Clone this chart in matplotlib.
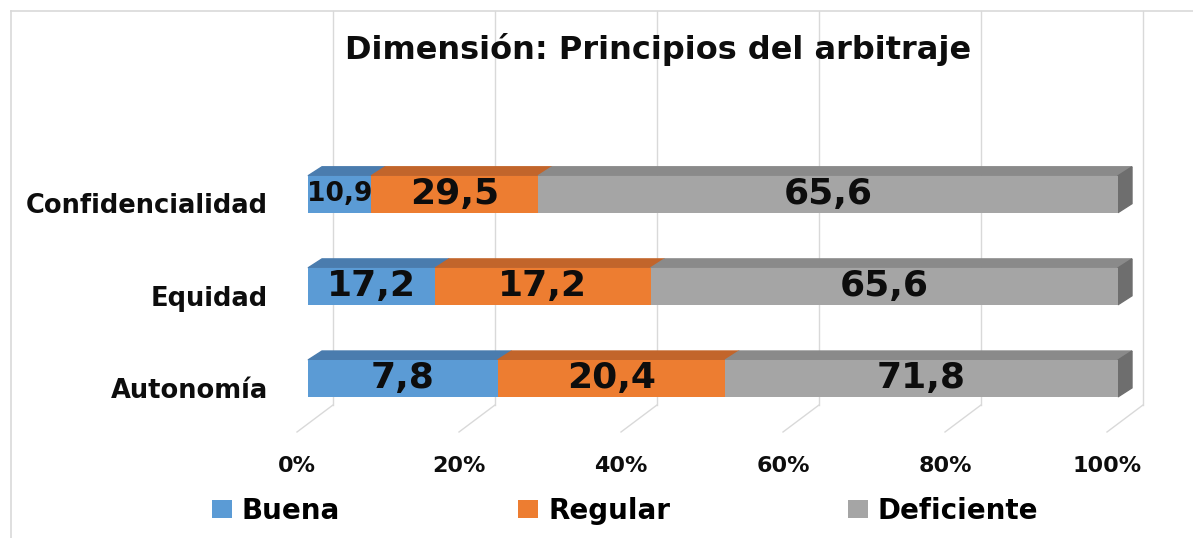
import matplotlib.pyplot as plt
from matplotlib.patches import Polygon
from matplotlib.lines import Line2D
import numpy as np

categories = ['Autonomía', 'Equidad', 'Confidencialidad']
series = ['Buena', 'Regular', 'Deficiente']
# segment lengths as drawn in the picture (percent of bar)
buena = [23.4, 15.7, 7.8]
regular = [28.1, 26.6, 20.6]
deficiente = [48.5, 57.7, 71.6]
# data labels as printed on the bars
buena_labels = ['7,8', '17,2', '10,9']
regular_labels = ['20,4', '17,2', '29,5']
deficiente_labels = ['71,8', '65,6', '65,6']
ticks = [0, 20, 40, 60, 80, 100]

plt.rcParams['font.family'] = 'DejaVu Sans'
plt.rcParams['font.weight'] = 'bold'

W, H = 1193, 538
fig = plt.figure(figsize=(W / 100, H / 100), dpi=100)
ax = fig.add_axes([297 / W, (H - 432) / H, 810 / W, 421 / H])
ax.set_xlim(0, 100)
ax.set_ylim(-0.5815, 3.989)
for s in ax.spines.values():
    s.set_visible(False)

# fake 3d: pixel offsets turned into data units
PX, PY = 8.1, 92.1
FRONT = 11 / PX
DX, DY = 14 / PX, 9 / PY
WX, WY = 36 / PX, 27 / PY
y0 = ax.get_ylim()

# back wall gridlines and floor ticks
for t in ticks:
    ax.plot([t + WX, t + WX], [y0[0] + WY, y0[1]], color='#d9d9d9', lw=1, zorder=0, clip_on=False)
    ax.plot([t, t + WX], [y0[0], y0[0] + WY], color='#d9d9d9', lw=1, zorder=0, clip_on=False)

colors = ['#5B9BD5', '#ED7D31', '#A5A5A5']
tops = ['#4A7CAE', '#C2652B', '#8A8A8A']
side = '#6E6E6E'

y = np.arange(len(categories))
h = 0.4
left = np.zeros(len(categories))
for vals, labs, c, tc, name in zip([buena, regular, deficiente],
                                   [buena_labels, regular_labels, deficiente_labels],
                                   colors, tops, series):
    vals = np.array(vals)
    bars = ax.barh(y, vals, left=left + FRONT, height=h, color=c, label=name, zorder=3)
    for b in bars:
        b.set_clip_on(False)
    for yi, l, v, lab in zip(y, left, vals, labs):
        x0, x1 = l + FRONT, l + v + FRONT
        yt = yi + h / 2
        ax.add_patch(Polygon([(x0, yt), (x1, yt), (x1 + DX, yt + DY), (x0 + DX, yt + DY)],
                             color=tc, zorder=2, clip_on=False))
        fs = 19 if v < 10 else 26
        ax.text((x0 + x1) / 2, yi, lab, ha='center', va='center', fontsize=fs,
                fontweight='bold', color='#0d0d0d', zorder=5)
    left += vals

xe = 100 + FRONT
for yi in y:
    ax.add_patch(Polygon([(xe, yi - h / 2), (xe, yi + h / 2), (xe + DX, yi + h / 2 + DY),
                          (xe + DX, yi - h / 2 + DY)], color=side, zorder=2, clip_on=False))

ax.set_yticks(y - 0.1, categories, fontsize=18.5, fontweight='bold', color='#0d0d0d')
ax.set_xticks(ticks, [f'{t}%' for t in ticks], fontsize=16, fontweight='bold', color='#0d0d0d')
ax.tick_params(axis='y', length=0, pad=21)
ax.tick_params(axis='x', length=0, pad=17)

fig.text(658 / W, (H - 50) / H, 'Dimensión: Principios del arbitraje', ha='center', va='center',
         fontsize=23, fontweight='bold', color='#0d0d0d')

fig.legend(loc='center left', bbox_to_anchor=(212 / W, (H - 511) / H), ncol=3, frameon=False,
           prop={'size': 20, 'weight': 'bold'}, borderpad=0, borderaxespad=0,
           handlelength=0.72, handleheight=0.6, handletextpad=0.36, columnspacing=6.4)

fig.add_artist(Line2D([11 / W, 1], [(H - 11) / H, (H - 11) / H], color='#d9d9d9', lw=1.2))
fig.add_artist(Line2D([11 / W, 11 / W], [0, (H - 11) / H], color='#d9d9d9', lw=1.2))

fig.savefig('out.png', dpi=100)
